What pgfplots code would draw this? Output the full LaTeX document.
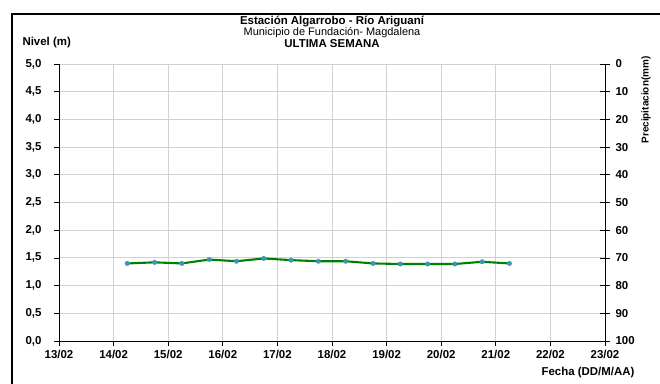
\documentclass[border=0pt]{standalone}
\usepackage{fontspec}
\setmainfont{Liberation Sans}
\usepackage{pgfplots}
\pgfplotsset{compat=1.18}
\definecolor{lineg}{RGB}{0,128,0}
\definecolor{markc}{RGB}{60,150,185}
\begin{document}
\begin{tikzpicture}[x=1bp,y=1bp]
\useasboundingbox (0,0) rectangle (660,383);
\draw[line width=2bp] (12,-5) -- (12,369) -- (665,369);
\begin{axis}[at={(59bp,42bp)}, anchor=south west, scale only axis,
  width=546bp, height=277bp,
  xmin=0, xmax=10, ymin=0, ymax=5,
  axis x line*=bottom, axis y line*=left,
  xtick={0,1,2,3,4,5,6,7,8,9,10},
  xticklabels={13/02,14/02,15/02,16/02,17/02,18/02,19/02,20/02,21/02,22/02,23/02},
  ytick={0,0.5,1,1.5,2,2.5,3,3.5,4,4.5,5},
  grid=major, grid style={line width=0.9bp, color=black!18},
  tick align=outside, major tick length=5bp,
  tick style={black, line width=0.8bp},
  axis line style={line width=0.9bp},
  /pgf/number format/assume math mode=true,
  ticklabel style={font=\fontsize{11.5}{12}\selectfont\bfseries},
  x tick label style={yshift=-1bp},
  y tick label style={xshift=-9bp, /pgf/number format/fixed, /pgf/number format/fixed zerofill,
    /pgf/number format/precision=1, /pgf/number format/use comma},
  clip=false,
]
\addplot[color=lineg, line width=2.1bp, mark=*, mark size=2.3bp,
  mark options={fill=markc, draw=markc, line width=0.3bp}]
  coordinates {
  (1.25,1.40) (1.75,1.42) (2.25,1.40) (2.75,1.47) (3.25,1.44)
  (3.75,1.49) (4.25,1.46) (4.75,1.44) (5.25,1.44) (5.75,1.40)
  (6.25,1.39) (6.75,1.39) (7.25,1.39) (7.75,1.43) (8.25,1.40)
  };
\end{axis}
\begin{axis}[at={(59bp,42bp)}, anchor=south west, scale only axis,
  width=546bp, height=277bp,
  xmin=0, xmax=10, ymin=0, ymax=100, y dir=reverse,
  axis y line*=right, axis x line=none,
  ytick={0,10,20,30,40,50,60,70,80,90,100},
  tick align=center, major tick length=10bp,
  tick style={black, line width=0.8bp},
  axis line style={line width=0.9bp},
  /pgf/number format/assume math mode=true,
  ticklabel style={font=\fontsize{11.5}{12}\selectfont\bfseries},
  y tick label style={xshift=2bp},
]
\end{axis}
\node[font=\fontsize{11.5}{12}\selectfont\bfseries] at (332,361) {Estación Algarrobo - Río Ariguaní};
\node[font=\fontsize{11}{12}\selectfont] at (332,350) {Municipio de Fundación- Magdalena};
\node[font=\fontsize{11.5}{12}\selectfont\bfseries] at (332,339) {ULTIMA SEMANA};
\node[font=\fontsize{11.5}{12}\selectfont\bfseries, anchor=west] at (19,340) {Nivel (m)};
\node[font=\fontsize{10}{12}\selectfont\bfseries, rotate=90] at (646,283) {Precipitacion(mm)};
\node[font=\fontsize{11.5}{12}\selectfont\bfseries, anchor=east] at (638,10) {Fecha (DD/M/AA)};
\end{tikzpicture}
\end{document}
